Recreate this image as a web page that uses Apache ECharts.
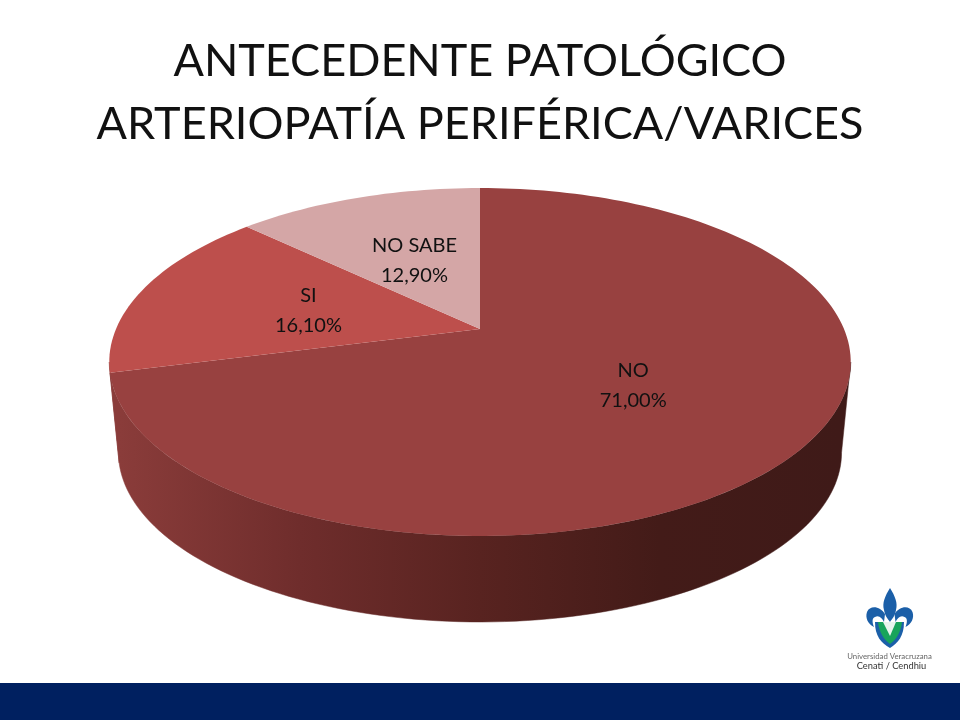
<!DOCTYPE html>
<html><head><meta charset="utf-8">
<style>html,body{margin:0;padding:0;background:#fff}#c{width:960px;height:720px}</style>
<script src="https://cdn.jsdelivr.net/npm/echarts@6/dist/echarts.min.js"></script>
</head><body><div id="c"></div>
<script>
const titleLines = ['ANTECEDENTE PATOLÓGICO', 'ARTERIOPATÍA PERIFÉRICA/VARICES'];
const categories = ['NO', 'SI', 'NO SABE'];
const values = [71.0, 16.1, 12.9];
const topColors = ['#984140', '#BD4F4C', '#D4A6A6'];
const FONT = 'Lato, Carlito, Calibri, sans-serif';

// perspective disc: top face and bottom face of the pie
const K = 0.1897;
const TOP = {x: 480, y: 329, a: 364, b: 167.7};
const BOTTOM = {x: 480, y: 420.2, a: 355, b: 163.5};
const total = values.reduce((s, v) => s + v, 0);

function project(f, deg, r) {
  const t = deg * Math.PI / 180, u = Math.sin(t) * r, v = Math.cos(t) * r, w = 1 + K * v;
  return [f.x + f.a * u / w, f.y - f.b * v / w];
}
function arc(f, a0, a1) {
  const pts = [], n = Math.max(2, Math.ceil(Math.abs(a1 - a0) / 1.5));
  for (let i = 0; i <= n; i++) pts.push(project(f, a0 + (a1 - a0) * i / n, 1));
  return pts;
}
const silhouette = Math.acos(-K) * 180 / Math.PI;
const FRONT0 = silhouette, FRONT1 = 360 - silhouette;
const wallFill = new echarts.graphic.LinearGradient(120, 0, 840, 0, [
  {offset: 0, color: '#8A3C3A'}, {offset: 0.25, color: '#6F2D2C'},
  {offset: 0.5, color: '#582320'}, {offset: 0.75, color: '#431B18'},
  {offset: 1, color: '#3F1A18'}], true);

function renderSlice(params, api) {
  const i = params.dataIndex, val = api.value(0);
  let before = 0;
  for (let j = 0; j < i; j++) before += values[j];
  const a0 = before / total * 360, a1 = (before + val) / total * 360;
  const children = [];
  const w0 = Math.max(a0, FRONT0), w1 = Math.min(a1, FRONT1);
  if (w1 > w0) {
    children.push({type: 'polygon', z2: 1,
      shape: {points: arc(TOP, w0, w1).concat(arc(BOTTOM, w1, w0))},
      style: {fill: wallFill, stroke: wallFill, lineWidth: 0.5}});
  }
  children.push({type: 'polygon', z2: 2,
    shape: {points: [[TOP.x, TOP.y]].concat(arc(TOP, a0, a1))},
    style: {fill: topColors[i]}});
  const mid = project(TOP, (a0 + a1) / 2, 0.5);
  const pct = val.toFixed(2).replace('.', ',') + '%';
  children.push({type: 'text', z2: 5,
    style: {x: mid[0] + 0.5, y: mid[1] + 2, text: categories[i] + '\n' + pct, align: 'center', verticalAlign: 'middle',
      font: '20px ' + FONT, lineHeight: 30, fill: '#111'}});
  return {type: 'group', children};
}

const LOGO_BLUE = '#1B5FA8';
const logoShapes = [
  ['M890 588 C885 596 882 603 884 610 C885 616 888 619 890 622 C892 619 895 616 896 610 C898 603 895 596 890 588 Z', LOGO_BLUE],
  ['M885 614 C880 606 870 605 867 612 C865 618 868 624 874 627 C872 622 872 618 875 617 C879 615 882 618 884 622 Z', LOGO_BLUE],
  ['M894.5 614 C899.5 606 909.5 605 912.5 612 C914.5 618 911.5 624 905.5 627 C907.5 622 907.5 618 904.5 617 C900.5 615 897.5 618 895.5 622 Z', LOGO_BLUE],
  ['M875 622 L904 622 C904 636 898 643 890 648 C881 643 875 636 875 622 Z', LOGO_BLUE],
  ['M878 622 L902 622 C901 632 896 640 890 644 C884 640 879 632 878 622 Z', '#18A45B'],
  ['M883 622 L896 622 L890 636 Z', '#E8F4EE']
];
function renderLogo(params) {
  const s = logoShapes[params.dataIndex];
  return {type: 'path', shape: {pathData: s[0]}, style: {fill: s[1]}};
}

const chart = echarts.init(document.getElementById('c'), null, {renderer: 'canvas'});
chart.setOption({
  animation: false,
  backgroundColor: '#fff',
  title: {text: titleLines.join('\n'), left: 475, top: 25, textAlign: 'center',
    textStyle: {fontFamily: FONT, fontSize: 45, fontWeight: 'normal', color: '#111', lineHeight: 63}},
  series: [
    {type: 'custom', coordinateSystem: 'none', renderItem: renderSlice, silent: true,
      data: categories.map((c, i) => ({name: c, value: [values[i]]}))},
    {type: 'custom', coordinateSystem: 'none', renderItem: renderLogo, silent: true,
      data: logoShapes.map((s, i) => [i])}
  ],
  graphic: [
    {type: 'rect', z: 1, shape: {x: 0, y: 683, width: 960, height: 37}, style: {fill: '#002060'}},
    {type: 'text', z: 2, style: {x: 889.5, y: 656, text: 'Universidad Veracruzana', align: 'center', verticalAlign: 'middle', font: '7.8px ' + FONT, fill: '#666'}},
    {type: 'text', z: 2, style: {x: 891.5, y: 665.5, text: 'Cenati / Cendhiu', align: 'center', verticalAlign: 'middle', font: '9.3px ' + FONT, fill: '#333'}}
  ]
});
</script></body></html>
